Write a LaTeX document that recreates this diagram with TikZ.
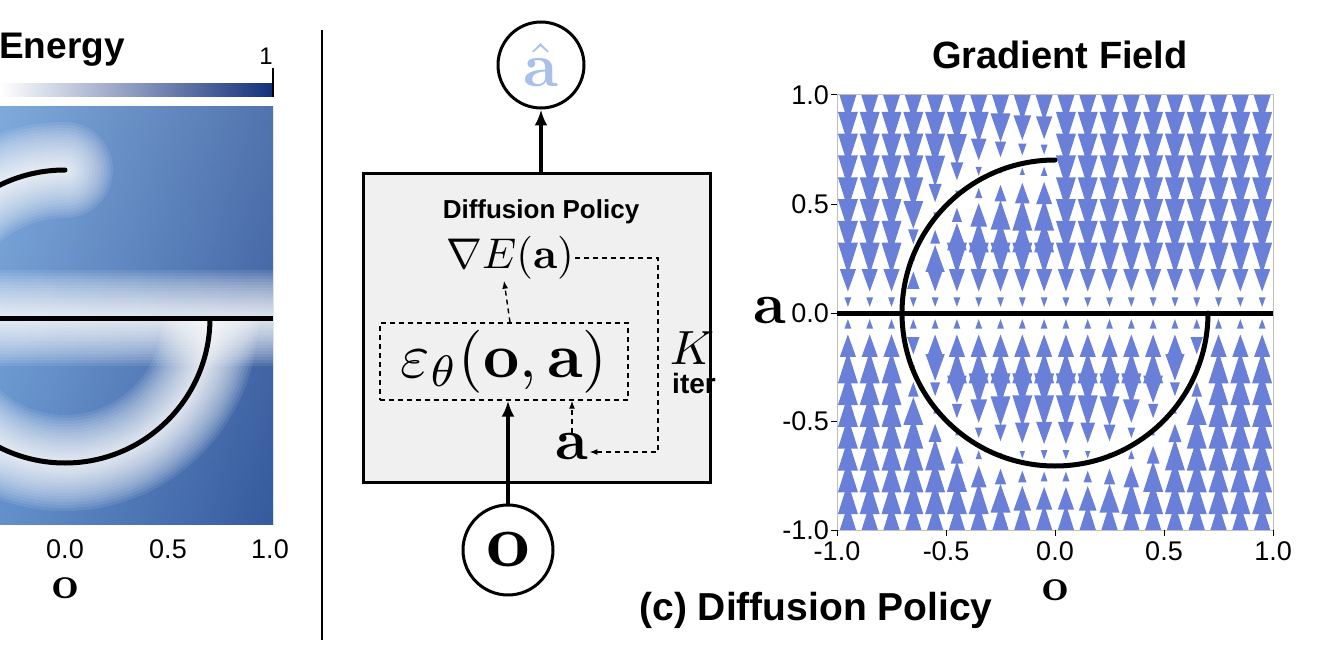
\documentclass[tikz,border=0pt]{standalone}
\usepackage{amsmath}
\usepackage{graphicx}
\usepackage[no-math]{fontspec}
\setmainfont{Liberation Sans}
\usetikzlibrary{arrows.meta}
\definecolor{fieldblue}{HTML}{6A80D8}
\definecolor{heatblue}{HTML}{5B92D2}
\definecolor{navy}{HTML}{12307A}
\definecolor{hatcol}{HTML}{A9C0EA}
\newcommand{\mybigmath}[2]{\scalebox{#1}{$#2$}}
\begin{document}
\begin{tikzpicture}[x=1pt,y=-1pt,
  curve/.style={line width=5pt,black},
  tick/.style={font=\fontsize{27}{29}\selectfont},
  mydash/.style={dash pattern=on 5pt off 4pt,line width=1.4pt},
  dashedarrow/.style={mydash,-{Latex[length=8pt,width=6pt]}},
  solidarrow/.style={line width=3.2pt,-{Latex[length=16pt,width=13pt]}},
  circ/.style={circle,draw,line width=3pt,minimum size=86pt,inner sep=0pt}]
\useasboundingbox (0,0) rectangle (1335,658);
\fill[white] (0,0) rectangle (1335,658);
% ---------- left energy plot ----------
\node[font=\bfseries\fontsize{37}{39}\selectfont] (energy) at (62,50) {Energy};
\node[font=\fontsize{24}{26}\selectfont] (one) at (266,56) {1};
\shade[left color=white,right color=navy] (0,84) rectangle (273,97);
\draw[line width=1.5pt] (273,68) -- (273,97);
\begin{scope}
\clip (0,107) rectangle (273,524);
\shade[top color=heatblue!75!white,bottom color=heatblue!70!navy] (0,107) rectangle (273,524);
\shade[left color=heatblue!80!white,right color=navy!90,opacity=0.55] (0,107) rectangle (273,524);
\foreach \w in {96,90,84,78,72,66,60,54,48,43,38,33,28,24,20,16,12,9,6}{
  \draw[white,line width=\w pt,opacity=0.09] (0,318) -- (273,318);
  \draw[white,line width=\w pt,opacity=0.09,line cap=round] (65,170) arc[start angle=270,end angle=180,radius=148];
  \draw[white,line width=\w pt,opacity=0.09] (210,318) arc[start angle=0,end angle=180,radius=145];
}
\draw[curve] (0,318) -- (273,318);
\draw[curve,line cap=round] (65,170) arc[start angle=270,end angle=180,radius=148];
\draw[curve] (210,318) arc[start angle=0,end angle=180,radius=145];
\end{scope}
\node[tick] (lt0) at (65,549) {0.0};
\node[tick] (lt1) at (168,549) {0.5};
\node[tick] (lt2) at (270,549) {1.0};
\node (lo) at (65,588) {\mybigmath{4.6}{\mathbf{o}}};
% divider
\draw[line width=2.5pt] (322,30) -- (322,640);
% ---------- middle ----------
\node[circ,text=hatcol] (ahat) at (541,65) {\raisebox{-6pt}{\mybigmath{6.2}{\hat{\mathbf{a}}}}};
\node[draw,line width=3pt,fill=gray!12,minimum width=347pt,minimum height=309pt] (box) at (536.5,327.5) {};
\node[font=\bfseries\fontsize{26}{28}\selectfont] (dptitle) at (541,212) {Diffusion Policy};
\node[inner sep=1pt] (gradE) at (510,258) {\mybigmath{4.3}{\nabla E(\mathbf{a})}};
\node[draw,mydash,minimum width=248pt,minimum height=77pt] (eps) at (504,361.5) {\mybigmath{6.3}{\varepsilon_\theta(\mathbf{o},\mathbf{a})}};
\node[inner sep=1pt] (a) at (572,447) {\mybigmath{5.8}{\mathbf{a}}};
\node (K) at (692,348) {\mybigmath{4.8}{K}};
\node[font=\bfseries\fontsize{28}{30}\selectfont] (iter) at (694,383) {iter};
\node[circ,minimum size=90pt] (o) at (508,550) {\mybigmath{7.6}{\mathbf{o}}};
\draw[solidarrow] (o) -- (eps.south -| o);
\draw[solidarrow] (box.north -| ahat) -- (ahat);
\draw[dashedarrow] (eps.north -| gradE) -- (gradE.south -| eps.north);
\coordinate (c1) at (658,258);
\coordinate (c2) at (658,452);
\draw[dashedarrow] (gradE.east) -- (c1) -- (c2) -- (a.east |- c2);
\draw[dashedarrow] (a.north) -- (eps.south -| a);
% ---------- right gradient field ----------
\node[font=\bfseries\fontsize{38}{40}\selectfont] (gtitle) at (1060,55) {Gradient Field};
\begin{scope}
\clip (837,95) rectangle (1273,530);
\foreach \i in {0,...,19}{
 \foreach \j in {0,...,19}{
  \pgfmathsetmacro\X{-0.95+0.1*\i}
  \pgfmathsetmacro\Y{-0.95+0.1*\j}
  \pgfmathsetmacro\r{0.49-\X*\X}
  \pgfmathsetmacro\s{\r>0 ? sqrt(max(\r,0)) : 10}
  \pgfmathsetmacro\dl{-\s-\Y}
  \pgfmathsetmacro\du{\X<0 ? \s-\Y : 10}
  \pgfmathsetmacro\dz{-\Y}
  \pgfmathsetmacro\bA{abs(\dl)<abs(\dz) ? \dl : \dz}
  \pgfmathsetmacro\b{abs(\du)<abs(\bA) ? \du : \bA}
  \pgfmathsetmacro\h{3+130*min(abs(\b),0.22)}
  \pgfmathsetmacro\w{min(0.72*\h,20)}
  \pgfmathsetmacro\dir{\b>0 ? -1 : 1}
  \pgfmathsetmacro\px{1055+218*\X}
  \pgfmathsetmacro\py{313-218*\Y}
  \fill[fieldblue] (\px,\py+\dir*\h/2) -- (\px-\w/2,\py-\dir*\h/2) -- (\px+\w/2,\py-\dir*\h/2) -- cycle;
 }}
\end{scope}
\draw[line width=1pt,gray!50] (837,95) rectangle (1273,530);
\draw[curve] (837,313) -- (1273,313);
\draw[curve,line cap=round] (1055,160) arc[start angle=270,end angle=0,radius=153];
\foreach \v/\yy in {1.0/95,0.5/204,0.0/313,-0.5/421,-1.0/530}{
  \draw[line width=1pt] (831,\yy) -- (837,\yy);
  \node[tick,anchor=east,inner sep=1pt] at (830,\yy) {\v};
}
\foreach \v/\xx in {-1.0/837,-0.5/946,0.0/1055,0.5/1164,1.0/1273}{
  \draw[line width=1pt] (\xx,530) -- (\xx,536);
  \node[tick] at (\xx,551) {\v};
}
\node (ra) at (770,311) {\mybigmath{5.8}{\mathbf{a}}};
\node (ro) at (1055,590) {\mybigmath{4.6}{\mathbf{o}}};
\node[font=\bfseries\fontsize{39}{41}\selectfont] (cap) at (816,610) {(c) Diffusion Policy};
\end{tikzpicture}
\end{document}
